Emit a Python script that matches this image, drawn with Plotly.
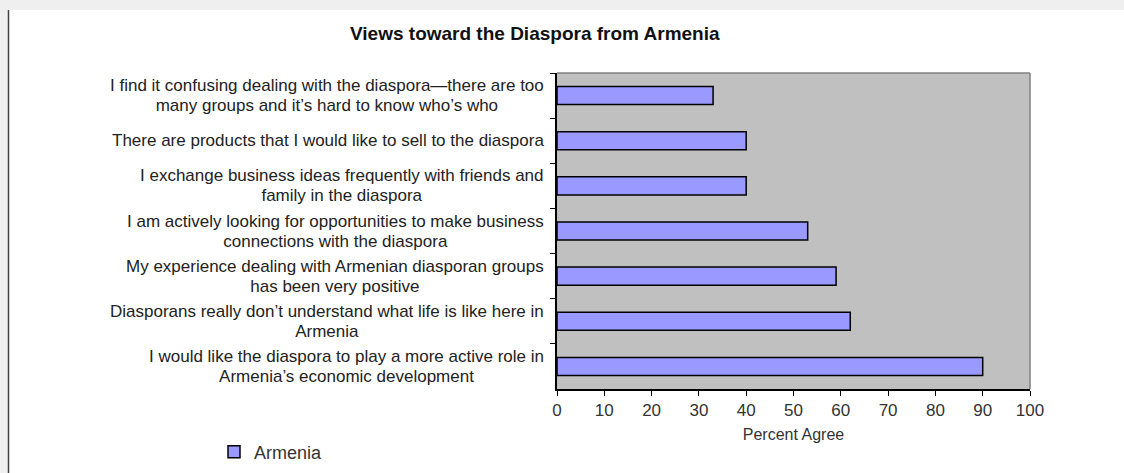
import plotly.graph_objects as go

categories = [
    "I find it confusing dealing with the diaspora\u2014there are too<br>many groups and it\u2019s hard to know who\u2019s who",
    "There are products that I would like to sell to the diaspora",
    "I exchange business ideas frequently with friends and<br>family in the diaspora",
    "I am actively looking for opportunities to make business<br>connections with the diaspora",
    "My experience dealing with Armenian diasporan groups<br>has been very positive",
    "Diasporans really don\u2019t understand what life is like here in<br>Armenia",
    "I would like the diaspora to play a more active role in<br>Armenia\u2019s economic development",
]
values = [33, 40, 40, 53, 59, 62, 90]
series_name = "Armenia"
x_ticks = [0, 10, 20, 30, 40, 50, 60, 70, 80, 90, 100]
title_text = "Views toward the Diaspora from Armenia"
x_title = "Percent Agree"

FONT = "Liberation Sans, Arial, sans-serif"
W, H = 1124, 473
L, R, T, B = 557, 1030, 73, 389

def px_x(p):
    return (p - L) / (R - L)

def px_y(p):
    return (B - p) / (B - T)

fig = go.Figure()
fig.add_trace(go.Bar(
    y=categories, x=values, orientation="h", name=series_name,
    marker=dict(color="#9999ff", line=dict(color="#000000", width=1.5)),
    showlegend=True,
))

annotations = []
for c in categories:
    styled = "<br>".join('<span style="font-size:17px">' + ln + "</span>" for ln in c.split("<br>"))
    annotations.append(dict(
        x=px_x(546), xref="paper", y=c, yref="y", text=styled,
        xanchor="right", yanchor="middle", align="center", showarrow=False,
        font=dict(family=FONT, size=15, color="#222222"),
    ))
annotations.append(dict(
    x=px_x(535), xref="paper", y=px_y(33), yref="paper", text="<b>" + title_text + "</b>",
    xanchor="center", yanchor="middle", showarrow=False,
    font=dict(family=FONT, size=19, color="#111111"),
))

shapes = [
    dict(type="rect", xref="paper", yref="paper", x0=px_x(0), x1=px_x(W), y0=px_y(10), y1=px_y(0),
         fillcolor="#efefef", line=dict(width=0), layer="below"),
    dict(type="rect", xref="paper", yref="paper", x0=px_x(0), x1=px_x(8), y0=px_y(H), y1=px_y(10),
         fillcolor="#f0f0f0", line=dict(width=0), layer="below"),
    dict(type="line", xref="paper", yref="paper", x0=px_x(8.5), x1=px_x(8.5), y0=px_y(H), y1=px_y(10),
         line=dict(color="#444444", width=1.5)),
    dict(type="line", xref="paper", yref="paper", x0=0, x1=1, y0=1, y1=1,
         line=dict(color="#808080", width=1.5)),
    dict(type="line", xref="paper", yref="paper", x0=1, x1=1, y0=0, y1=1,
         line=dict(color="#808080", width=1.5)),
]

fig.update_layout(
    width=W, height=H,
    margin=dict(l=L, r=W - R, t=T, b=H - B, pad=0, autoexpand=False),
    paper_bgcolor="#ffffff", plot_bgcolor="#c0c0c0",
    bargap=0.6,
    font=dict(family=FONT, size=16, color="#333333"),
    annotations=annotations, shapes=shapes,
    legend=dict(orientation="h", x=px_x(214), y=px_y(452), xanchor="left", yanchor="middle",
                font=dict(family=FONT, size=18, color="#333333"), bgcolor="rgba(0,0,0,0)"),
    showlegend=True,
)
fig.update_xaxes(
    range=[0, 100], tickvals=x_ticks, ticks="outside", ticklen=5, tickcolor="#000000",
    showline=True, linecolor="#000000", linewidth=1.5, showgrid=False, zeroline=False,
    tickfont=dict(family=FONT, size=17, color="#333333"), ticklabelstandoff=0,
    title=dict(text=x_title, font=dict(family=FONT, size=16, color="#333333"), standoff=10),
    automargin=False, fixedrange=True,
)
fig.update_yaxes(
    categoryorder="array", categoryarray=categories, autorange="reversed",
    showticklabels=False, ticks="outside", ticklen=5, tickcolor="#000000", tickson="boundaries",
    showline=True, linecolor="#000000", linewidth=1.5, showgrid=False, zeroline=False,
    automargin=False, fixedrange=True,
)

fig.write_html("out.html")
